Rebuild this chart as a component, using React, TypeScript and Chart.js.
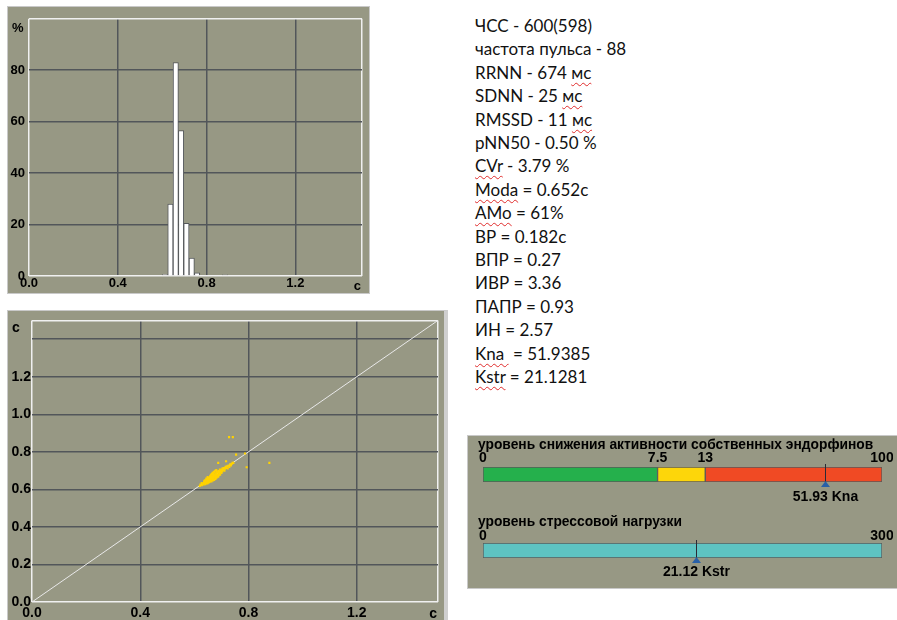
import React, { useEffect, useRef } from 'react';
import { Chart, registerables } from 'chart.js';

Chart.register(...registerables);

// ---------- data ----------
const histBins = [0.612, 0.637, 0.661, 0.685, 0.709, 0.733, 0.757, 0.883];
const histValues = [0.6, 28, 83, 56.5, 20.5, 7, 1.2, 0.5];
const histXTicks = [0, 0.4, 0.8, 1.2];
const histXMax = 1.5;
const histYTicks = [0, 20, 40, 60, 80];
const histYMax = 100;

const rrCurrent = [
  0.620, 0.622, 0.628, 0.627, 0.630, 0.634, 0.636, 0.635, 0.637, 0.640,
  0.641, 0.640, 0.642, 0.643, 0.645, 0.646, 0.647, 0.644, 0.648, 0.650,
  0.651, 0.650, 0.652, 0.653, 0.649, 0.654, 0.656, 0.657, 0.655, 0.658,
  0.659, 0.657, 0.660, 0.661, 0.662, 0.660, 0.663, 0.664, 0.662, 0.665,
  0.666, 0.667, 0.665, 0.668, 0.669, 0.667, 0.670, 0.671, 0.672, 0.670,
  0.673, 0.674, 0.672, 0.676, 0.677, 0.675, 0.678, 0.679, 0.677, 0.680,
  0.681, 0.682, 0.683, 0.681, 0.684, 0.686, 0.687, 0.688, 0.689, 0.690,
  0.692, 0.693, 0.694, 0.695, 0.696, 0.698, 0.700, 0.701, 0.703, 0.704,
  0.707, 0.709, 0.711, 0.713, 0.715, 0.718, 0.720, 0.723, 0.726, 0.729,
  0.732, 0.735, 0.738, 0.741, 0.728, 0.742, 0.877, 0.793, 0.754, 0.787,
  0.688, 0.717, 0.744,
];
const rrNext = [
  0.618, 0.626, 0.622, 0.633, 0.629, 0.626, 0.640, 0.634, 0.646, 0.628,
  0.638, 0.648, 0.643, 0.633, 0.652, 0.639, 0.646, 0.658, 0.632, 0.642,
  0.650, 0.660, 0.636, 0.655, 0.666, 0.646, 0.640, 0.652, 0.662, 0.670,
  0.645, 0.658, 0.650, 0.664, 0.656, 0.674, 0.642, 0.668, 0.679, 0.652,
  0.661, 0.672, 0.682, 0.647, 0.665, 0.688, 0.657, 0.676, 0.668, 0.686,
  0.650, 0.662, 0.694, 0.671, 0.680, 0.690, 0.656, 0.666, 0.699, 0.676,
  0.685, 0.662, 0.694, 0.703, 0.670, 0.680, 0.690, 0.668, 0.698, 0.676,
  0.686, 0.695, 0.705, 0.678, 0.690, 0.697, 0.687, 0.705, 0.696, 0.712,
  0.703, 0.713, 0.700, 0.710, 0.720, 0.714, 0.723, 0.712, 0.727, 0.720,
  0.733, 0.728, 0.736, 0.742, 0.878, 0.878, 0.741, 0.718, 0.785, 0.791,
  0.741, 0.750, 0.741,
];
const identityLine = [0, 1.5];
const scatXTicks = [0, 0.4, 0.8, 1.2];
const scatYTicks = [0, 0.2, 0.4, 0.6, 0.8, 1.0, 1.2, 1.4];
const scatYLabeled = [0, 0.2, 0.4, 0.6, 0.8, 1.0, 1.2];
const scatMax = 1.5;

const statsLines = [
  'ЧСС - 600(598)',
  'частота пульса - 88',
  'RRNN - 674 {мс}',
  'SDNN - 25 {мс}',
  'RMSSD - 11 {мс}',
  'pNN50 - 0.50 %',
  '{CVr} - 3.79 %',
  '{Moda} = 0.652с',
  '{AMo} = 61%',
  'ВР = 0.182с',
  'ВПР = 0.27',
  'ИВР = 3.36',
  'ПАПР = 0.93',
  'ИН = 2.57',
  '{Kna } = 51.9385',
  '{Kstr} = 21.1281',
];

const knaTitle = 'уровень снижения активности собственных эндорфинов';
const knaBounds = [1, 7.5, 13, 100];
const knaTickLabels = ['0', '7.5', '13', '100'];
const knaColors = ['#25b04c', '#fdd60a', '#f04a24'];
const knaValue = 51.93;
const knaUnit = 'Kna';

const kstrTitle = 'уровень стрессовой нагрузки';
const kstrBounds = [1, 300];
const kstrTickLabels = ['0', '300'];
const kstrColors = ['#5ec3c2'];
const kstrValue = 21.12;
const kstrUnit = 'Kstr';

// ---------- styles ----------
const FONT = "'Liberation Sans', Arial, sans-serif";
const PANEL = 'rgb(151,152,132)';
const GRID = '#52565a';
const EDGE = '#f0f0f0';

Chart.defaults.font.family = FONT;

const edgeColor = (lo: number, hi: number) => (c: any) =>
  c.tick && (c.tick.value === lo || c.tick.value === hi) ? EDGE : GRID;

type Txt = { text: string; x: (a: any) => number; y: (a: any) => number; align: CanvasTextAlign };
const unitPlugin = (items: Txt[], size: number) => ({
  id: 'units',
  afterDraw(chart: any) {
    const ctx = chart.ctx;
    const a = chart.chartArea;
    ctx.save();
    ctx.font = `bold ${size}px ${FONT}`;
    ctx.fillStyle = '#000';
    ctx.textBaseline = 'alphabetic';
    items.forEach((it) => {
      ctx.textAlign = it.align;
      ctx.fillText(it.text, it.x(a), it.y(a));
    });
    ctx.restore();
  },
});

function histConfig(): any {
  return {
    type: 'bar',
    data: {
      datasets: [
        {
          data: histBins.map((x, i) => ({ x, y: histValues[i] })),
          backgroundColor: '#ffffff',
          borderColor: '#55585b',
          borderWidth: 1,
          barPercentage: 1,
          categoryPercentage: 1,
        },
      ],
    },
    options: {
      responsive: false,
      animation: false,
      events: [],
      layout: { padding: { top: 7, right: 7, left: 0, bottom: 0 } },
      plugins: { legend: { display: false }, tooltip: { enabled: false } },
      scales: {
        x: {
          type: 'linear',
          min: 0,
          max: histXMax,
          offset: false,
          afterBuildTicks: (s: any) => {
            s.ticks = [...histXTicks, histXMax].map((value) => ({ value }));
          },
          afterFit: (s: any) => {
            s.height = 17;
          },
          grid: { color: edgeColor(0, histXMax), lineWidth: 1.5, drawTicks: false, offset: false },
          border: { display: false },
          ticks: {
            padding: 0,
            color: '#000',
            autoSkip: false,
            maxRotation: 0,
            font: { size: 13, weight: 'bold' },
            callback: (v: any) => (histXTicks.includes(v) ? Number(v).toFixed(1) : ''),
          },
        },
        y: {
          type: 'linear',
          min: 0,
          max: histYMax,
          afterBuildTicks: (s: any) => {
            s.ticks = [...histYTicks, histYMax].map((value) => ({ value }));
          },
          afterFit: (s: any) => {
            s.width = 21;
          },
          grid: { color: edgeColor(0, histYMax), lineWidth: 1.5, drawTicks: false },
          border: { display: false },
          ticks: {
            padding: 4,
            color: '#000',
            autoSkip: false,
            font: { size: 13, weight: 'bold' },
            callback: (v: any) => (histYTicks.includes(v) ? String(v) : ''),
          },
        },
      },
    },
    plugins: [
      unitPlugin(
        [
          { text: '%', x: (a) => a.left - 17, y: (a) => a.top + 13, align: 'left' },
          { text: 'c', x: (a) => a.right - 1, y: (a) => a.bottom + 14, align: 'right' },
        ],
        13,
      ),
    ],
  };
}

function scatterConfig(): any {
  return {
    type: 'scatter',
    data: {
      datasets: [
        {
          data: rrCurrent.map((x, i) => ({ x, y: rrNext[i] })),
          backgroundColor: '#ffd200',
          borderWidth: 0,
          pointStyle: 'rect',
          pointRadius: 1.5,
          order: 0,
        },
        {
          data: identityLine.map((v) => ({ x: v, y: v })),
          showLine: true,
          borderColor: '#e8e8e8',
          borderWidth: 1,
          pointRadius: 0,
          order: 1,
        },
      ],
    },
    options: {
      responsive: false,
      animation: false,
      events: [],
      layout: { padding: { top: 7, right: 5, left: 0, bottom: 0 } },
      plugins: { legend: { display: false }, tooltip: { enabled: false } },
      scales: {
        x: {
          type: 'linear',
          min: 0,
          max: scatMax,
          afterBuildTicks: (s: any) => {
            s.ticks = [...scatXTicks, scatMax].map((value) => ({ value }));
          },
          afterFit: (s: any) => {
            s.height = 18;
          },
          grid: { color: edgeColor(0, scatMax), lineWidth: 1.5, drawTicks: false },
          border: { display: false },
          ticks: {
            padding: 3,
            color: '#000',
            autoSkip: false,
            maxRotation: 0,
            font: { size: 14, weight: 'bold' },
            callback: (v: any) => (scatXTicks.includes(v) ? Number(v).toFixed(1) : ''),
          },
        },
        y: {
          type: 'linear',
          min: 0,
          max: scatMax,
          afterBuildTicks: (s: any) => {
            s.ticks = [...scatYTicks, scatMax].map((value) => ({ value }));
          },
          afterFit: (s: any) => {
            s.width = 24;
          },
          grid: { color: edgeColor(0, scatMax), lineWidth: 1.5, drawTicks: false },
          border: { display: false },
          ticks: {
            padding: 1,
            color: '#000',
            autoSkip: false,
            font: { size: 14, weight: 'bold' },
            callback: (v: any) => (scatYLabeled.includes(v) ? Number(v).toFixed(1) : ''),
          },
        },
      },
    },
    plugins: [
      unitPlugin(
        [
          { text: 'c', x: (a) => a.left - 20, y: (a) => a.top + 12, align: 'left' },
          { text: 'c', x: (a) => a.right - 1, y: (a) => a.bottom + 16, align: 'right' },
        ],
        14,
      ),
    ],
  };
}

function gaugeConfig(
  title: string,
  bounds: number[],
  tickLabels: string[],
  colors: string[],
  value: number,
  unit: string,
  padTop: number,
  padBottom: number,
  titleGap: number,
  tickGap: number,
  labelGap: number,
): any {
  const segs = bounds.slice(0, -1).map((b, i) => [b, bounds[i + 1]]);
  return {
    type: 'bar',
    data: {
      labels: [''],
      datasets: segs.map((s, i) => ({
        data: [s],
        backgroundColor: colors[i],
        borderColor: '#5a5a5a',
        borderWidth: 1,
        borderSkipped: false,
        grouped: false,
        barPercentage: 1,
        categoryPercentage: 1,
      })),
    },
    options: {
      indexAxis: 'y',
      responsive: false,
      animation: false,
      events: [],
      layout: { padding: { left: 15, right: 11, top: padTop, bottom: padBottom } },
      plugins: { legend: { display: false }, tooltip: { enabled: false } },
      scales: {
        x: {
          type: 'logarithmic',
          display: false,
          min: bounds[0],
          max: bounds[bounds.length - 1],
        },
        y: { display: false },
      },
    },
    plugins: [
      {
        id: 'gaugeDecor',
        afterDraw(chart: any) {
          const ctx = chart.ctx;
          const a = chart.chartArea;
          const xs = chart.scales.x;
          const x = Math.round(xs.getPixelForValue(value)) + 0.5;
          ctx.save();
          // title
          ctx.fillStyle = '#000';
          ctx.font = `bold 13.8px ${FONT}`;
          ctx.textAlign = 'left';
          ctx.textBaseline = 'alphabetic';
          ctx.fillText(title, a.left - 5, a.top - titleGap);
          // tick labels
          ctx.font = `bold 14px ${FONT}`;
          ctx.textAlign = 'center';
          ctx.textBaseline = 'middle';
          bounds.forEach((b, i) => {
            ctx.fillText(tickLabels[i], xs.getPixelForValue(b), a.top - tickGap);
          });
          // marker
          ctx.strokeStyle = '#2a2a35';
          ctx.lineWidth = 1;
          ctx.beginPath();
          ctx.moveTo(x, a.top - 3);
          ctx.lineTo(x, a.bottom + 1);
          ctx.stroke();
          ctx.fillStyle = '#2860a8';
          ctx.beginPath();
          ctx.moveTo(x, a.bottom - 1);
          ctx.lineTo(x - 4.5, a.bottom + 5);
          ctx.lineTo(x + 4.5, a.bottom + 5);
          ctx.closePath();
          ctx.fill();
          ctx.fillStyle = '#000';
          ctx.font = `bold 14px ${FONT}`;
          ctx.textAlign = 'center';
          ctx.textBaseline = 'middle';
          ctx.fillText(`${value.toFixed(2)} ${unit}`, x, a.bottom + labelGap);
          ctx.restore();
        },
      },
    ],
  };
}

function ChartCanvas({ make, left, top, width, height }: { make: () => any; left: number; top: number; width: number; height: number }) {
  const ref = useRef<HTMLCanvasElement | null>(null);
  useEffect(() => {
    const c = new Chart(ref.current as HTMLCanvasElement, make());
    return () => c.destroy();
  }, []);
  return (
    <canvas
      ref={ref}
      width={width}
      height={height}
      style={{ position: 'absolute', left, top, width, height, display: 'block' }}
    />
  );
}

const squiggle: React.CSSProperties = {
  textDecorationLine: 'underline',
  textDecorationStyle: 'wavy',
  textDecorationColor: '#e02b2b',
  textDecorationThickness: '1px',
  textUnderlineOffset: '3px',
  textDecorationSkipInk: 'none' as any,
};

function StatLine({ line }: { line: string }) {
  const parts = line.split(/(\{[^}]+\})/).filter((p) => p.length);
  return (
    <div>
      {parts.map((p, i) =>
        p.startsWith('{') ? (
          <span key={i} style={squiggle}>
            {p.slice(1, -1)}
          </span>
        ) : (
          <span key={i}>{p}</span>
        ),
      )}
    </div>
  );
}

export default function App() {
  return (
    <div style={{ position: 'absolute', left: 0, top: 0, width: 897, height: 620, background: '#fff', overflow: 'hidden' }}>
      {/* histogram panel */}
      <div
        style={{
          position: 'absolute',
          left: 7,
          top: 6,
          width: 361,
          height: 286,
          background: PANEL,
          border: '1px solid #c9c9c9',
        }}
      />
      <ChartCanvas make={histConfig} left={8} top={7} width={361} height={286} />

      {/* scatter panel */}
      <div
        style={{
          position: 'absolute',
          left: 7,
          top: 310,
          width: 436,
          height: 320,
          background: PANEL,
          border: '1px solid #c9c9c9',
          borderRight: '4px solid #cfcfcf',
        }}
      />
      <ChartCanvas make={scatterConfig} left={8} top={311} width={435} height={309} />

      {/* statistics text */}
      <div
        style={{
          position: 'absolute',
          left: 475,
          top: 14,
          fontFamily: 'Lato, sans-serif',
          fontSize: 17,
          lineHeight: '23.4px',
          color: '#111',
          whiteSpace: 'pre',
        }}
      >
        {statsLines.map((l, i) => (
          <StatLine key={i} line={l} />
        ))}
      </div>

      {/* gauges panel */}
      <div
        style={{
          position: 'absolute',
          left: 467,
          top: 435,
          width: 440,
          height: 152,
          background: PANEL,
          border: '1px solid #c9c9c9',
        }}
      />
      <ChartCanvas
        make={() => gaugeConfig(knaTitle, knaBounds, knaTickLabels, knaColors, knaValue, knaUnit, 31, 28, 18, 9, 15)}
        left={468}
        top={436}
        width={425}
        height={74}
      />
      <ChartCanvas
        make={() => gaugeConfig(kstrTitle, kstrBounds, kstrTickLabels, kstrColors, kstrValue, kstrUnit, 33, 30, 17, 7, 14)}
        left={468}
        top={510}
        width={425}
        height={78}
      />
    </div>
  );
}
